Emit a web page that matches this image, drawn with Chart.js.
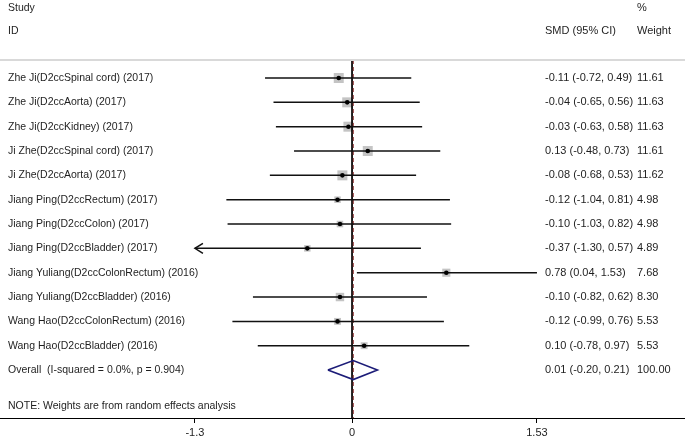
<!DOCTYPE html>
<html>
<head>
<meta charset="utf-8">
<script src="https://cdn.jsdelivr.net/npm/chart.js@4.4.0/dist/chart.umd.min.js"></script>
<style>
html, body { margin: 0; padding: 0; background: #fff; }
</style>
</head>
<body>
<canvas id="forest" width="685" height="437"></canvas>
<script>
// study rows, top to bottom
const studies = [
  "Zhe Ji(D2ccSpinal cord) (2017)",
  "Zhe Ji(D2ccAorta) (2017)",
  "Zhe Ji(D2ccKidney) (2017)",
  "Ji Zhe(D2ccSpinal cord) (2017)",
  "Ji Zhe(D2ccAorta) (2017)",
  "Jiang Ping(D2ccRectum) (2017)",
  "Jiang Ping(D2ccColon) (2017)",
  "Jiang Ping(D2ccBladder) (2017)",
  "Jiang Yuliang(D2ccColonRectum) (2016)",
  "Jiang Yuliang(D2ccBladder) (2016)",
  "Wang Hao(D2ccColonRectum) (2016)",
  "Wang Hao(D2ccBladder) (2016)"
];
const smd    = [-0.11, -0.04, -0.03, 0.13, -0.08, -0.12, -0.10, -0.37, 0.78, -0.10, -0.12, 0.10];
const ciLow  = [-0.72, -0.65, -0.63, -0.48, -0.68, -1.04, -1.03, -1.30, 0.04, -0.82, -0.99, -0.78];
const ciHigh = [0.49, 0.56, 0.58, 0.73, 0.53, 0.81, 0.82, 0.57, 1.53, 0.62, 0.76, 0.97];
const weights = [11.61, 11.63, 11.63, 11.61, 11.62, 4.98, 4.98, 4.89, 7.68, 8.30, 5.53, 5.53];

const overallLabel = "Overall  (I-squared = 0.0%, p = 0.904)";
const overallSmd = 0.01;
const overallLow = -0.20;
const overallHigh = 0.21;
const overallWeight = 100.00;

const xTicks = [-1.3, 0, 1.53];
const xTickLabels = ["-1.3", "0", "1.53"];

// axis window (the axis runs across the whole picture, text columns included)
const xMin = -2.913, xMax = 2.755;
const yMin = -0.74, yMax = 13.97;
const overallRow = studies.length;
const noteRow = overallRow + 1.5;

const fontFamily = "'Liberation Sans', Arial, sans-serif";
const txtColor = "#1e1e1e";

const fmt = v => v.toFixed(2);

const ciSets = studies.map((s, i) => ({
  data: [{ x: ciLow[i], y: i }, { x: ciHigh[i], y: i }],
  showLine: true,
  borderColor: "#111",
  borderWidth: 1.5,
  pointRadius: 0,
  order: 1
}));

const textPlugin = {
  id: "forestText",
  afterDraw(chart) {
    const c = chart.ctx;
    const xs = chart.scales.x, ys = chart.scales.y;
    const top = chart.chartArea.top;
    c.save();
    // rule under the header
    c.strokeStyle = "#d9d9d9";
    c.lineWidth = 2;
    c.beginPath();
    c.moveTo(0, top);
    c.lineTo(chart.width, top);
    c.stroke();

    c.fillStyle = txtColor;
    c.textBaseline = "middle";
    c.textAlign = "left";
    c.font = "10.5px " + fontFamily;
    c.fillText("Study", 8, 8);
    c.fillText("ID", 8, 31);
    studies.forEach((s, i) => c.fillText(s, 8, ys.getPixelForValue(i)));
    const yo = ys.getPixelForValue(overallRow);
    c.fillText(overallLabel, 8, yo);
    c.fillText("NOTE: Weights are from random effects analysis", 8, ys.getPixelForValue(noteRow));

    c.font = "11px " + fontFamily;
    c.fillText("%", 637, 8);
    c.fillText("SMD (95% CI)", 545, 31);
    c.fillText("Weight", 637, 31);
    studies.forEach((s, i) => {
      const y = ys.getPixelForValue(i);
      c.fillText(fmt(smd[i]) + " (" + fmt(ciLow[i]) + ", " + fmt(ciHigh[i]) + ")", 545, y);
      c.fillText(fmt(weights[i]), 637, y);
    });
    c.fillText(fmt(overallSmd) + " (" + fmt(overallLow) + ", " + fmt(overallHigh) + ")", 545, yo);
    c.fillText(fmt(overallWeight), 637, yo);

    // arrowheads where the interval reaches the left display limit
    c.strokeStyle = "#111";
    c.lineWidth = 1.5;
    ciLow.forEach((v, i) => {
      if (v <= xTicks[0]) {
        const px = xs.getPixelForValue(xTicks[0]);
        const py = ys.getPixelForValue(i);
        c.beginPath();
        c.moveTo(px + 8, py - 5);
        c.lineTo(px, py);
        c.lineTo(px + 8, py + 5);
        c.stroke();
      }
    });
    c.restore();
  }
};

const ctx = document.getElementById("forest").getContext("2d");
const forest = new Chart(ctx, {
  type: "scatter",
  data: {
    datasets: [
      {
        // weight boxes
        data: smd.map((v, i) => ({ x: v, y: i })),
        pointStyle: "rect",
        pointRadius: weights.map(w => 2.07 * Math.sqrt(w)),
        backgroundColor: "#c4c4c4",
        borderWidth: 0,
        order: 4
      },
      ...ciSets,
      {
        // point estimates
        data: smd.map((v, i) => ({ x: v, y: i })),
        pointStyle: "circle",
        pointRadius: 2.3,
        backgroundColor: "#000",
        borderWidth: 0,
        order: 0
      },
      {
        // overall diamond
        data: [
          { x: overallLow, y: overallRow },
          { x: overallSmd, y: overallRow - 0.39 },
          { x: overallHigh, y: overallRow },
          { x: overallSmd, y: overallRow + 0.39 },
          { x: overallLow, y: overallRow }
        ],
        showLine: true,
        borderColor: "#1c1c78",
        borderWidth: 1.6,
        pointRadius: 0,
        order: 1
      },
      {
        // null line
        data: [{ x: 0, y: yMin }, { x: 0, y: yMax }],
        showLine: true,
        borderColor: "#000",
        borderWidth: 1,
        pointRadius: 0,
        order: 3
      },
      {
        // overall effect line
        data: [{ x: overallSmd, y: yMin }, { x: overallSmd, y: yMax }],
        showLine: true,
        borderColor: "#8b2d2d",
        borderWidth: 1,
        borderDash: [4, 3],
        pointRadius: 0,
        order: 2
      }
    ]
  },
  options: {
    responsive: false,
    animation: false,
    devicePixelRatio: 1,
    layout: { autoPadding: false, padding: { top: 60, left: 0, right: 0, bottom: 0 } },
    plugins: { legend: { display: false }, tooltip: { enabled: false } },
    scales: {
      x: {
        type: "linear",
        min: xMin,
        max: xMax,
        afterBuildTicks: s => { s.ticks = xTicks.map(v => ({ value: v })); },
        afterFit: s => { s.paddingLeft = 0; s.paddingRight = 0; s.height = 19; },
        ticks: {
          callback: (v, i) => xTickLabels[i],
          font: { family: fontFamily, size: 11 },
          color: txtColor,
          padding: 3,
          maxRotation: 0,
          autoSkip: false
        },
        grid: { drawOnChartArea: false, drawTicks: true, tickLength: 5, color: "#000", lineWidth: 1 },
        border: { display: true, color: "#000", width: 1 }
      },
      y: {
        type: "linear",
        reverse: true,
        min: yMin,
        max: yMax,
        display: false
      }
    }
  },
  plugins: [textPlugin]
});
</script>
</body>
</html>
